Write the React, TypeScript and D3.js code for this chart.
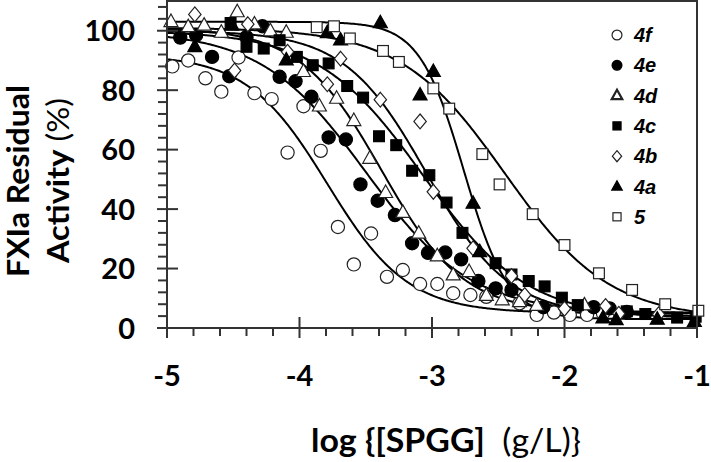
import React from 'react';
import * as d3 from 'd3';

// --- data (log concentration, residual activity %) ---
const x4f = [-4.96, -4.84, -4.71, -4.59, -4.46, -4.34, -4.21, -4.09, -3.97, -3.84, -3.71, -3.59, -3.46, -3.34, -3.22, -3.09, -2.96, -2.84, -2.71, -2.59, -2.34, -2.21, -2.08, -1.96, -1.83, -1.71];
const y4f = [88, 90, 84, 79.5, 91, 79, 77, 59, 74.6, 59.6, 34, 21.4, 31.8, 17.2, 19.5, 14.8, 14.8, 11.7, 11.1, 10.5, 8.3, 4.4, 5.2, 4.4, 4.4, 5];

const x4e = [-4.9, -4.78, -4.66, -4.53, -4.4, -4.28, -4.15, -4.03, -3.91, -3.78, -3.65, -3.54, -3.41, -3.28, -3.15, -3.03, -2.9, -2.78, -2.65, -2.52, -2.4, -2.16, -1.78, -1.66, -1.53];
const y4e = [97.7, 98.5, 91.2, 84.7, 97.9, 101.5, 84.5, 83, 77.8, 64.1, 63.4, 48.3, 42.8, 38, 28.5, 25.3, 25.4, 23.1, 15.8, 13.3, 12.8, 7, 7, 6.6, 5.4];

const x4d = [-4.97, -4.84, -4.72, -4.59, -4.47, -4.34, -4.22, -4.1, -3.97, -3.85, -3.72, -3.59, -3.47, -3.35, -3.22, -3.1, -2.96, -2.84, -2.72, -2.59, -2.47, -2.34, -2.21, -1.85];
const y4d = [103, 101.3, 101.8, 99.4, 106.3, 102.2, 99.9, 99.4, 86.2, 74.6, 77.2, 69.7, 57, 45.5, 38.8, 31.8, 24.2, 17.8, 18.9, 10.9, 9.4, 8.8, 7.5, 7.7];

const x4c = [-4.52, -4.4, -4.27, -4.15, -4.02, -3.9, -3.78, -3.64, -3.52, -3.4, -3.27, -3.15, -3.02, -2.89, -2.77, -2.52, -2.4, -2.27, -2.15, -2.02, -1.9, -1.53, -1.39, -1.15, -1.01];
const y4c = [102.6, 94.6, 94, 96.8, 91.2, 88.4, 89, 81.4, 77.5, 64.5, 61.5, 52.9, 51.4, 42.2, 32, 21.8, 18, 15.8, 14, 10.2, 7.7, 5.6, 4.7, 3.5, 3.8];

const x4b = [-4.79, -4.49, -4.39, -4.09, -3.79, -3.69, -3.39, -3.09, -2.99, -2.69, -2.4, -2.3, -2, -1.69, -1.59, -1.29];
const y4b = [105.5, 86.6, 102.2, 92.9, 82, 90.6, 76.8, 69.5, 45.8, 26.8, 17.5, 11.1, 6.5, 7.4, 4.8, 4.6];

const x4a = [-4.79, -4.51, -4.1, -3.79, -3.69, -3.39, -3.09, -2.99, -2.69, -2.64, -1.71, -1.61, -1.3, -1.02];
const y4a = [94.6, 101.8, 90.1, 99.3, 96.8, 102.6, 78.3, 86.2, 41.9, 25.6, 3.3, 2.7, 2.9, 2.1];

const x5 = [-3.87, -3.74, -3.62, -3.37, -3.25, -2.99, -2.87, -2.62, -2.49, -2.24, -2, -1.74, -1.49, -1.24, -0.99];
const y5 = [101.2, 101.5, 97.4, 93.2, 89.5, 80.6, 73.8, 58.5, 48.3, 38.3, 27.9, 18.4, 12.8, 8, 5.8];

// fitted dose-response parameters [top, bottom, logIC50, hill]
const fit4f = [92, 5, -3.79, 1.43];
const fit4e = [100, 5, -3.5, 1.1];
const fit4d = [101, 5, -3.38, 1.4];
const fit4c = [100, 3, -3.07, 1.1];
const fit4b = [100, 4, -3.04, 1.4];
const fit4a = [103, 3, -2.76, 2.6];
const fit5 = [101, 3, -2.45, 1.1];

const seriesNames = ['4f', '4e', '4d', '4c', '4b', '4a', '5'];
const xTicks = [-5, -4, -3, -2, -1];
const yTicks = [0, 20, 40, 60, 80, 100];

type Shape = 'circle' | 'triangle' | 'square' | 'diamond';
const series: { name: string; xs: number[]; ys: number[]; fit: number[]; shape: Shape; filled: boolean }[] = [
  { name: '4f', xs: x4f, ys: y4f, fit: fit4f, shape: 'circle', filled: false },
  { name: '4e', xs: x4e, ys: y4e, fit: fit4e, shape: 'circle', filled: true },
  { name: '4d', xs: x4d, ys: y4d, fit: fit4d, shape: 'triangle', filled: false },
  { name: '4c', xs: x4c, ys: y4c, fit: fit4c, shape: 'square', filled: true },
  { name: '4b', xs: x4b, ys: y4b, fit: fit4b, shape: 'diamond', filled: false },
  { name: '4a', xs: x4a, ys: y4a, fit: fit4a, shape: 'triangle', filled: true },
  { name: '5', xs: x5, ys: y5, fit: fit5, shape: 'square', filled: false },
];

const W = 711;
const H = 462;
const left = 167, right = 697, top = 1, bottom = 328;

const Marker = ({ shape, filled, cx, cy, k = 1, sw = 1.2 }: { shape: Shape; filled: boolean; cx: number; cy: number; k?: number; sw?: number }) => {
  const fill = filled ? '#000' : '#fff';
  const stroke = filled ? '#000' : '#222';
  if (shape === 'circle') return <circle cx={cx} cy={cy} r={6.6 * k} fill={fill} stroke={stroke} strokeWidth={sw} />;
  if (shape === 'square') { const s = 5.4 * k; return <rect x={cx - s} y={cy - s} width={2 * s} height={2 * s} fill={fill} stroke={stroke} strokeWidth={sw} />; }
  if (shape === 'diamond') { const w = 6.2 * k, h = 7.4 * k; return <path d={`M${cx},${cy - h}L${cx + w},${cy}L${cx},${cy + h}L${cx - w},${cy}Z`} fill={fill} stroke={stroke} strokeWidth={sw} />; }
  const w = 7 * k, h = 12.5 * k;
  return <path d={`M${cx},${cy - h * 0.62}L${cx + w},${cy + h * 0.38}L${cx - w},${cy + h * 0.38}Z`} fill={fill} stroke={stroke} strokeWidth={sw} />;
};

export default function App() {
  const x = d3.scaleLinear().domain([-5, -1]).range([left, right]);
  const y = d3.scaleLinear().domain([0, 110]).range([bottom, top]);

  const logistic = (p: number[], v: number) => p[1] + (p[0] - p[1]) / (1 + Math.pow(10, (v - p[2]) * p[3]));
  const grid = d3.range(-5, -0.995, 0.01);
  const line = d3.line<number>().x(v => x(v)).curve(d3.curveLinear);

  const yMinor = d3.range(4, 110, 4).filter(v => v % 20 !== 0);
  const xMinor = d3.range(-5, -1, 0.2).filter(v => Math.abs(v - Math.round(v)) > 1e-6);

  const axisColor = '#333';
  const numFont = 'Lato, "DejaVu Sans", sans-serif';

  return (
    <svg width={W} height={H} style={{ position: 'absolute', left: 0, top: 0, background: '#fff' }}>
      <defs>
        <clipPath id="plot"><rect x={left} y={top} width={right - left} height={bottom - top} /></clipPath>
      </defs>

      {/* fitted curves */}
      <g clipPath="url(#plot)">
        {series.map(s => (
          <path key={'c' + s.name} d={line.y(v => y(logistic(s.fit, v)))(grid) || ''} fill="none" stroke="#000" strokeWidth={2} />
        ))}
      </g>

      {/* points */}
      {series.map(s => (
        <g key={'p' + s.name}>
          {s.xs.map((v, i) => <Marker key={i} shape={s.shape} filled={s.filled} cx={x(v)} cy={y(s.ys[i])} />)}
        </g>
      ))}

      {/* frame and axes */}
      <rect x={left} y={top} width={right - left} height={bottom - top} fill="none" stroke={axisColor} strokeWidth={2} />

      {yTicks.map(t => (
        <g key={'yt' + t}>
          <line x1={left - 10} x2={left + 11} y1={y(t)} y2={y(t)} stroke={axisColor} strokeWidth={2} />
          <text x={135} y={y(t) + 10.5} textAnchor="end" fontFamily={numFont} fontWeight="bold" fontSize={29} fill="#000">{t}</text>
        </g>
      ))}
      {yMinor.map(t => <line key={'ym' + t} x1={left - 9} x2={left} y1={y(t)} y2={y(t)} stroke={axisColor} strokeWidth={2} />)}

      {xTicks.map(t => (
        <g key={'xt' + t}>
          <line x1={x(t)} x2={x(t)} y1={bottom - 11} y2={bottom + 10} stroke={axisColor} strokeWidth={2} />
          <text x={x(t)} y={386} textAnchor="middle" fontFamily={numFont} fontWeight="bold" fontSize={29} fill="#000">{t}</text>
        </g>
      ))}
      {xMinor.map(t => <line key={'xm' + t} x1={x(t)} x2={x(t)} y1={bottom} y2={bottom + 8} stroke={axisColor} strokeWidth={2} />)}

      {/* axis titles */}
      <text x={446} y={452} textAnchor="middle" fontFamily={numFont} fontSize={32} fill="#000" textLength={270} lengthAdjust="spacingAndGlyphs">
        <tspan fontWeight="bold">log {'{'}[SPGG]</tspan>
        <tspan>{'\u00a0 (g/L)}'}</tspan>
      </text>
      <g transform="translate(29,181) rotate(-90)">
        <text textAnchor="middle" fontFamily={numFont} fontWeight="bold" fontSize={30} fill="#000" textLength={192} lengthAdjust="spacingAndGlyphs">FXIa Residual</text>
      </g>
      <g transform="translate(69,180.5) rotate(-90)">
        <text textAnchor="middle" fontFamily={numFont} fontSize={30} fill="#000" textLength={165} lengthAdjust="spacingAndGlyphs">
          <tspan fontWeight="bold">Activity</tspan>
          <tspan> (%)</tspan>
        </text>
      </g>

      {/* legend */}
      {series.map((s, i) => {
        const cy = 35 + i * 30.3;
        return (
          <g key={'lg' + s.name}>
            <Marker shape={s.shape} filled={s.filled} cx={617} cy={cy} k={0.75} sw={s.shape === 'triangle' && !s.filled ? 2.2 : 1.2} />
            <text x={634} y={cy + 7} fontFamily='"Liberation Sans", Arial, sans-serif' fontWeight="bold" fontStyle="italic" fontSize={20} fill="#000">{seriesNames[i]}</text>
          </g>
        );
      })}
    </svg>
  );
}
